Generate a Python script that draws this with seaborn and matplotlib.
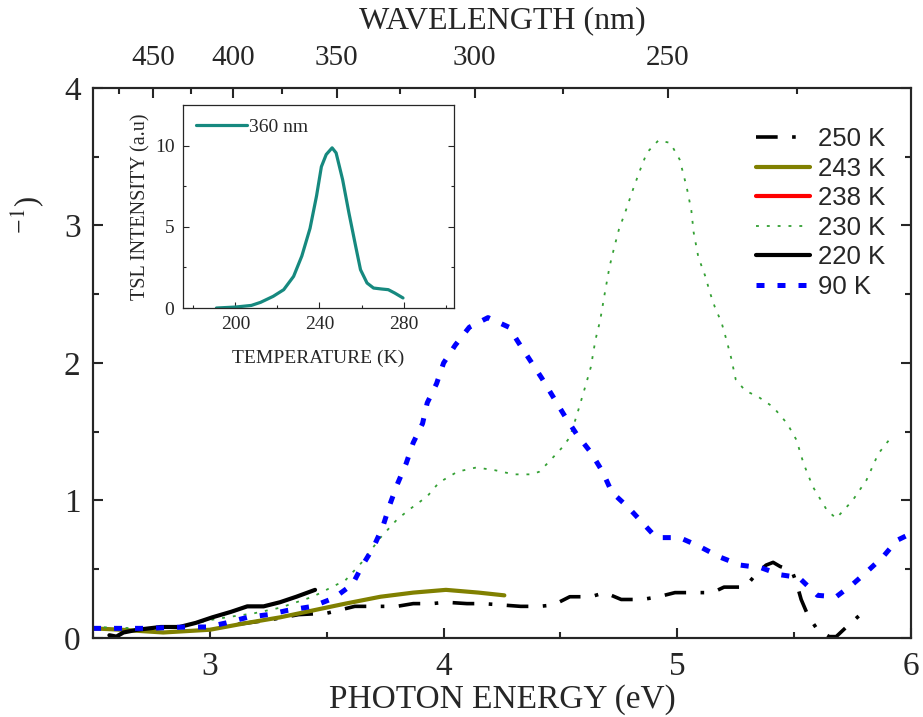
import numpy as np
import pandas as pd
import matplotlib
matplotlib.use("Agg")
import matplotlib.pyplot as plt
from matplotlib.lines import Line2D
from matplotlib.ticker import MultipleLocator, FixedLocator
import seaborn as sns

# ---------------- data ----------------
E_250 = [3.12, 3.25, 3.38, 3.50, 3.62, 3.73, 3.80, 3.87, 3.95, 4.01, 4.10, 4.17, 4.25, 4.33,
         4.41, 4.47, 4.54, 4.63, 4.69, 4.76, 4.85, 4.92, 4.99, 5.09, 5.15, 5.20, 5.29, 5.34,
         5.38, 5.41, 5.44, 5.49, 5.51, 5.53, 5.56, 5.60, 5.65, 5.68, 5.73, 5.79, 5.82]
A_250 = [0.10, 0.13, 0.17, 0.18, 0.23, 0.23, 0.23, 0.25, 0.25, 0.26, 0.25, 0.25, 0.24, 0.23,
         0.23, 0.24, 0.30, 0.30, 0.33, 0.28, 0.28, 0.30, 0.33, 0.33, 0.33, 0.37, 0.37, 0.47,
         0.53, 0.55, 0.52, 0.49, 0.40, 0.28, 0.16, 0.06, 0.01, 0.01, 0.09, 0.18, 0.23]

E_243 = [2.5, 2.62, 2.8, 3.0, 3.16, 3.3, 3.44, 3.58, 3.73, 3.87, 4.01, 4.15, 4.26]
A_243 = [0.07, 0.06, 0.04, 0.06, 0.11, 0.15, 0.20, 0.25, 0.30, 0.33, 0.35, 0.33, 0.31]

E_230 = [2.5, 2.7, 2.9, 3.0, 3.07, 3.19, 3.3, 3.44, 3.58, 3.65, 3.73, 3.80, 3.85, 3.93, 3.98,
         4.06, 4.14, 4.22, 4.30, 4.38, 4.41, 4.45, 4.51, 4.54, 4.57, 4.61, 4.63, 4.65, 4.67,
         4.69, 4.71, 4.73, 4.75, 4.78, 4.81, 4.84, 4.87, 4.92, 4.97, 5.01, 5.04, 5.06, 5.07,
         5.09, 5.12, 5.14, 5.16, 5.19, 5.21, 5.23, 5.25, 5.29, 5.35, 5.41, 5.47, 5.51, 5.54,
         5.58, 5.64, 5.68, 5.75, 5.81, 5.86, 5.92]
A_230 = [0.08, 0.07, 0.09, 0.13, 0.15, 0.18, 0.22, 0.30, 0.42, 0.55, 0.73, 0.86, 0.93, 1.03, 1.13,
         1.21, 1.24, 1.22, 1.19, 1.19, 1.21, 1.28, 1.39, 1.46, 1.62, 1.85, 1.97, 2.17, 2.31,
         2.51, 2.70, 2.84, 2.97, 3.11, 3.26, 3.40, 3.53, 3.62, 3.60, 3.48, 3.28, 3.11, 2.95,
         2.77, 2.63, 2.51, 2.41, 2.29, 2.17, 2.04, 1.88, 1.80, 1.75, 1.68, 1.56, 1.44, 1.27,
         1.10, 0.93, 0.87, 1.00, 1.15, 1.34, 1.47]

E_220 = [2.57, 2.60, 2.63, 2.69, 2.79, 2.87, 2.94, 3.01, 3.09, 3.16, 3.23, 3.30, 3.37, 3.45]
A_220 = [0.02, 0.01, 0.04, 0.06, 0.08, 0.08, 0.11, 0.15, 0.19, 0.23, 0.23, 0.26, 0.30, 0.35]

E_90 = [2.5, 2.55, 2.73, 2.9, 2.99, 3.07, 3.16, 3.25, 3.33, 3.44, 3.53, 3.61, 3.65, 3.70, 3.74,
        3.77, 3.80, 3.84, 3.87, 3.91, 3.93, 3.97, 4.00, 4.05, 4.11, 4.19, 4.28, 4.32, 4.37,
        4.42, 4.47, 4.52, 4.57, 4.63, 4.68, 4.72, 4.79, 4.85, 4.91, 5.01, 5.09, 5.18, 5.27,
        5.36, 5.44, 5.52, 5.60, 5.68, 5.75, 5.81, 5.88, 5.94, 6.0]
A_90 = [0.07, 0.07, 0.07, 0.08, 0.08, 0.11, 0.15, 0.17, 0.20, 0.23, 0.29, 0.39, 0.52, 0.66, 0.81,
        0.97, 1.11, 1.27, 1.42, 1.56, 1.71, 1.85, 2.00, 2.13, 2.26, 2.33, 2.26, 2.15, 2.02,
        1.89, 1.75, 1.61, 1.48, 1.35, 1.21, 1.06, 0.95, 0.84, 0.73, 0.73, 0.67, 0.59, 0.53,
        0.51, 0.46, 0.44, 0.31, 0.30, 0.39, 0.48, 0.59, 0.71, 0.76]

# inset (TSL glow curve)
T_tsl = [191, 200, 207.6, 212, 218, 223, 227.7, 231.6, 235.5, 238.6, 240.9, 243.2, 246, 247.9,
         251, 254, 257.2, 259.5, 262.6, 265.7, 269.6, 272.7, 275.8, 279.7]
I_tsl = [0, 0.06, 0.16, 0.35, 0.72, 1.13, 1.95, 3.2, 4.9, 6.9, 8.7, 9.45, 9.86, 9.55,
         7.9, 5.85, 3.8, 2.36, 1.54, 1.23, 1.17, 1.13, 0.92, 0.62]

wl_major = [450, 400, 350, 300, 250]
wl_minor = [475, 425, 375, 325, 275, 225]

# ---------------- style ----------------
sns.set_style("ticks")
plt.rcParams['font.family'] = ['Liberation Serif', 'DejaVu Serif']
plt.rcParams['mathtext.fontset'] = 'stix'

fig = plt.figure(figsize=(9.23, 7.17), dpi=100)
ax = fig.add_axes([0.1008, 0.1102, 0.8862, 0.7671])

LS_250 = (0, (6, 4, 1, 4))
LS_230 = (0, (1.6, 4.4))
LS_90 = (0, (1.6, 2.6))

series = [
    ("250 K", E_250, A_250, dict(color="black", lw=2.6, linestyle=LS_250)),
    ("243 K", E_243, A_243, dict(color="#808000", lw=3.0, linestyle="-")),
    ("230 K", E_230, A_230, dict(color="#34a034", lw=1.3, linestyle=LS_230)),
    ("220 K", E_220, A_220, dict(color="black", lw=3.0, linestyle="-")),
    ("90 K", E_90, A_90, dict(color="#0000ff", lw=3.6, linestyle=LS_90)),
]
for name, xs, ys, kw in series:
    df = pd.DataFrame({"E": xs, "A": ys})
    sns.lineplot(data=df, x="E", y="A", ax=ax, sort=False, estimator=None, **kw)

ax.set_xlim(2.5, 6)
ax.set_ylim(0, 4)
ax.xaxis.set_major_locator(MultipleLocator(1))
ax.xaxis.set_minor_locator(MultipleLocator(0.5))
ax.yaxis.set_major_locator(MultipleLocator(1))
ax.yaxis.set_minor_locator(MultipleLocator(0.5))
ax.tick_params(which="both", direction="in", right=True, top=False, width=1.5)
ax.tick_params(which="major", length=7, labelsize=24)
ax.tick_params(which="minor", length=4.5)
ax.tick_params(axis="x", pad=10)
ax.tick_params(axis="y", pad=9)
ax.set_xlabel("PHOTON ENERGY (eV)", fontsize=24, labelpad=1)
ax.set_ylabel("")
for s in ax.spines.values():
    s.set_visible(True)
    s.set_linewidth(1.5)

# top wavelength axis
ax2 = ax.twiny()
ax2.set_xlim(ax.get_xlim())
ax2.xaxis.set_major_locator(FixedLocator([1240.0 / w for w in wl_major]))
ax2.xaxis.set_minor_locator(FixedLocator([1240.0 / w for w in wl_minor]))
ax2.set_xticklabels([str(w) for w in wl_major])
ax2.tick_params(which="both", direction="in", width=1.5, labelsize=21, pad=12)
ax2.tick_params(which="major", length=7)
ax2.tick_params(which="minor", length=4.5)
ax2.set_xlabel("WAVELENGTH (nm)", fontsize=23, labelpad=12)
for s in ax2.spines.values():
    s.set_linewidth(1.5)

# legend
handles = [
    Line2D([], [], color="black", lw=2.6, linestyle=LS_250),
    Line2D([], [], color="#808000", lw=3.0),
    Line2D([], [], color="#ff0000", lw=3.0),
    Line2D([], [], color="#34a034", lw=1.3, linestyle=LS_230),
    Line2D([], [], color="black", lw=3.0),
    Line2D([], [], color="#0000ff", lw=3.6, linestyle=LS_90),
]
labels = ["250 K", "243 K", "238 K", "230 K", "220 K", "90 K"]
ax.legend(handles, labels, loc="upper right", bbox_to_anchor=(0.99, 0.962),
          frameon=False, prop={"family": "Liberation Sans", "size": 18.5},
          handlelength=2.1, handletextpad=0.3, labelspacing=0.22, borderaxespad=0.3)

# truncated y label fragment
fig.text(0.030, 0.70, r"$^{-1}$)", rotation=90, fontsize=22, ha="center", va="center")

# ---------------- inset ----------------
axi = fig.add_axes([0.198, 0.5704, 0.294, 0.2832])
dfi = pd.DataFrame({"T": T_tsl, "I": I_tsl})
sns.lineplot(data=dfi, x="T", y="I", ax=axi, color="#16897f", lw=2.3, label="360 nm",
             sort=False, estimator=None)
axi.set_xlim(175, 304)
axi.set_ylim(0, 12.5)
axi.set_xticks([200, 240, 280])
axi.xaxis.set_minor_locator(FixedLocator([180, 220, 260, 300]))
axi.yaxis.set_major_locator(FixedLocator([0, 5, 10]))
axi.yaxis.set_minor_locator(FixedLocator([2.5, 7.5]))
axi.tick_params(which="both", direction="in", right=True, top=False, width=0.8, labelsize=14)
axi.tick_params(which="major", length=4)
axi.tick_params(which="minor", length=2.5)
axi.tick_params(axis="x", pad=6)
axi.tick_params(axis="y", pad=6)
axi.set_xlabel("TEMPERATURE (K)", fontsize=14, labelpad=12)
axi.set_ylabel("TSL INTENSITY (a.u)", fontsize=14.5, labelpad=3)
for s in axi.spines.values():
    s.set_linewidth(0.9)
axi.legend(loc="upper left", frameon=False, fontsize=14, handlelength=2.6,
           handletextpad=0.1, borderaxespad=0.3)

fig.savefig("out.png", dpi=100)
